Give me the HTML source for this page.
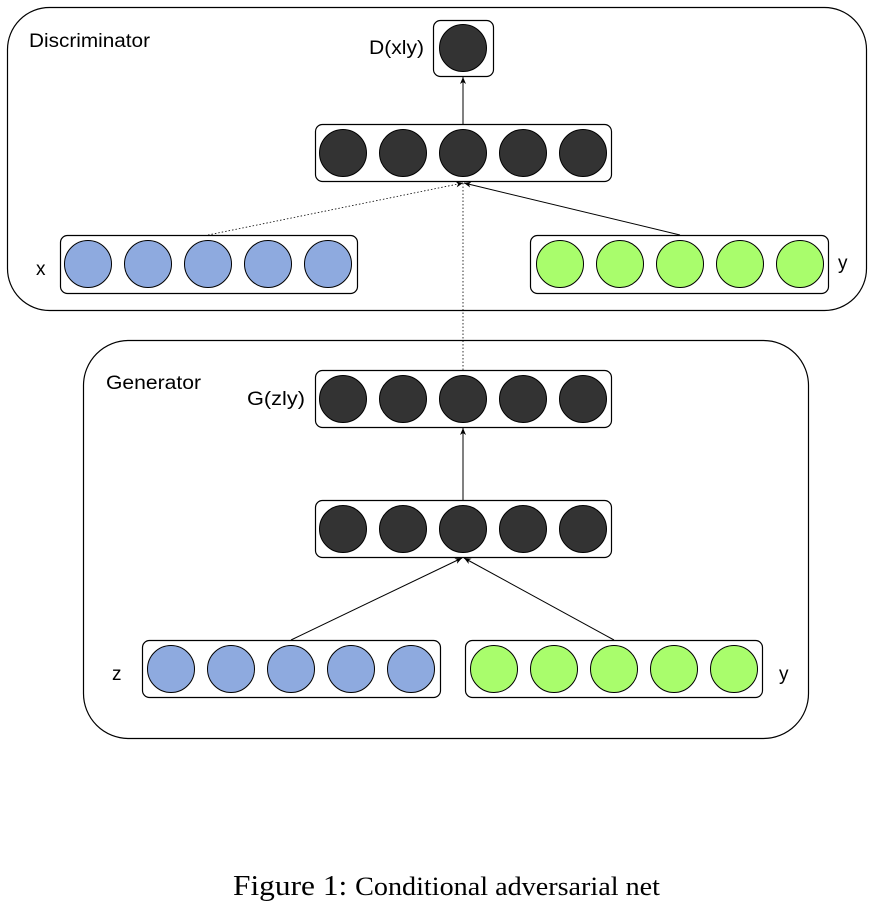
<!DOCTYPE html>
<html><head><meta charset="utf-8"><style>
html,body{margin:0;padding:0;background:#fff;}
svg{display:block;}
</style></head><body>
<svg width="876" height="907" viewBox="0 0 876 907" xmlns="http://www.w3.org/2000/svg">
<defs>
<marker id="ah" markerWidth="8" markerHeight="8" refX="7" refY="4" orient="auto" markerUnits="userSpaceOnUse">
<path d="M0,1 L7,4 L0,7 L2,4 Z" fill="#000"/>
</marker>
</defs>
<g fill="none" stroke="#000" stroke-width="1.2">
<rect x="7.5" y="7.5" width="859" height="303" rx="42" ry="42"/>
<rect x="83.5" y="340.5" width="725" height="398" rx="45" ry="45"/>
<rect x="433.5" y="20.5" width="60" height="56" rx="7"/>
<rect x="315.5" y="124.5" width="296" height="57" rx="7"/>
<rect x="60.5" y="235.5" width="297" height="58" rx="7"/>
<rect x="530.5" y="235.5" width="298" height="58" rx="7"/>
<rect x="315.5" y="370.5" width="296" height="57" rx="7"/>
<rect x="315.5" y="500.5" width="296" height="57" rx="7"/>
<rect x="142.5" y="640.5" width="298" height="57" rx="7"/>
<rect x="465.5" y="640.5" width="297" height="57" rx="7"/>
</g>
<g stroke="#000" stroke-width="1">
<circle cx="463" cy="48" r="23.5" fill="#333"/>
<circle cx="343" cy="153" r="23.5" fill="#333"/><circle cx="403" cy="153" r="23.5" fill="#333"/><circle cx="463" cy="153" r="23.5" fill="#333"/><circle cx="523" cy="153" r="23.5" fill="#333"/><circle cx="583" cy="153" r="23.5" fill="#333"/>
<circle cx="88" cy="264" r="23.5" fill="#8eaadf"/><circle cx="148" cy="264" r="23.5" fill="#8eaadf"/><circle cx="208" cy="264" r="23.5" fill="#8eaadf"/><circle cx="268" cy="264" r="23.5" fill="#8eaadf"/><circle cx="328" cy="264" r="23.5" fill="#8eaadf"/>
<circle cx="560" cy="264" r="23.5" fill="#a9fd6c"/><circle cx="620" cy="264" r="23.5" fill="#a9fd6c"/><circle cx="680" cy="264" r="23.5" fill="#a9fd6c"/><circle cx="740" cy="264" r="23.5" fill="#a9fd6c"/><circle cx="800" cy="264" r="23.5" fill="#a9fd6c"/>
<circle cx="343" cy="399" r="23.5" fill="#333"/><circle cx="403" cy="399" r="23.5" fill="#333"/><circle cx="463" cy="399" r="23.5" fill="#333"/><circle cx="523" cy="399" r="23.5" fill="#333"/><circle cx="583" cy="399" r="23.5" fill="#333"/>
<circle cx="343" cy="529" r="23.5" fill="#333"/><circle cx="403" cy="529" r="23.5" fill="#333"/><circle cx="463" cy="529" r="23.5" fill="#333"/><circle cx="523" cy="529" r="23.5" fill="#333"/><circle cx="583" cy="529" r="23.5" fill="#333"/>
<circle cx="171" cy="669" r="23.5" fill="#8eaadf"/><circle cx="231" cy="669" r="23.5" fill="#8eaadf"/><circle cx="291" cy="669" r="23.5" fill="#8eaadf"/><circle cx="351" cy="669" r="23.5" fill="#8eaadf"/><circle cx="411" cy="669" r="23.5" fill="#8eaadf"/>
<circle cx="494" cy="669" r="23.5" fill="#a9fd6c"/><circle cx="554" cy="669" r="23.5" fill="#a9fd6c"/><circle cx="614" cy="669" r="23.5" fill="#a9fd6c"/><circle cx="674" cy="669" r="23.5" fill="#a9fd6c"/><circle cx="734" cy="669" r="23.5" fill="#a9fd6c"/>
</g>
<g stroke="#000" stroke-width="1" fill="none">
<line x1="463" y1="124" x2="463" y2="77" marker-end="url(#ah)"/>
<line x1="208" y1="235" x2="463" y2="183" stroke-dasharray="1.5,2" stroke-width="0.8" marker-end="url(#ah)"/>
<line x1="463" y1="370" x2="463" y2="183" stroke-dasharray="1.5,2" stroke-width="0.8"/>
<line x1="680" y1="235" x2="464" y2="183" marker-end="url(#ah)"/>
<line x1="463" y1="500" x2="463" y2="428" marker-end="url(#ah)"/>
<line x1="291" y1="640" x2="462" y2="558" marker-end="url(#ah)"/>
<line x1="614" y1="640" x2="464" y2="558" marker-end="url(#ah)"/>
</g>
<g font-family="Liberation Sans, sans-serif" font-size="19" fill="#000">
<text x="29" y="47" textLength="121" lengthAdjust="spacingAndGlyphs">Discriminator</text>
<text x="369" y="54" textLength="55" lengthAdjust="spacingAndGlyphs">D(xly)</text>
<text x="36" y="275">x</text>
<text x="838" y="269">y</text>
<text x="106" y="389" textLength="95" lengthAdjust="spacingAndGlyphs">Generator</text>
<text x="247" y="405" textLength="58" lengthAdjust="spacingAndGlyphs">G(zly)</text>
<text x="112" y="680">z</text>
<text x="779" y="680">y</text>
</g>
<text x="233" y="895" font-family="Liberation Serif, serif" font-size="29" fill="#000" textLength="427" lengthAdjust="spacingAndGlyphs">Figure 1: <tspan font-size="26">Conditional adversarial net</tspan></text>
</svg>
</body></html>
